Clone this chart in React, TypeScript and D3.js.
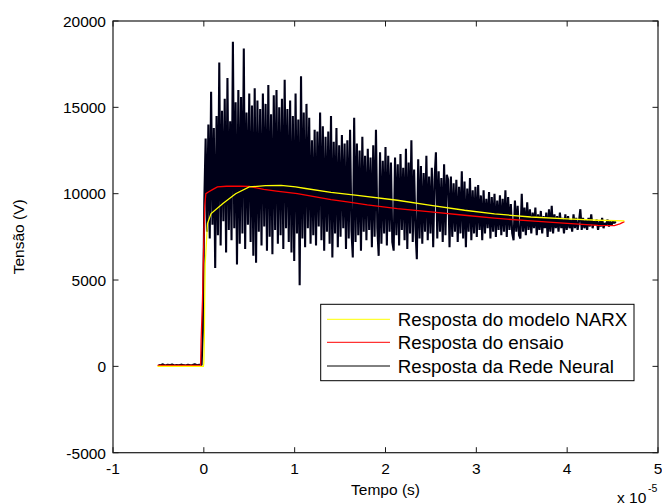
import React from 'react';
import * as d3 from 'd3';

// x axis in units of 1e-5 s
const xTicks = [-1, 0, 1, 2, 3, 4, 5];
const yTicks = [-5000, 0, 5000, 10000, 15000, 20000];
const xLabel = 'Tempo (s)';
const yLabel = 'Tensão (V)';
const legendLabels = ['Resposta do modelo NARX', 'Resposta do ensaio', 'Resposta da Rede Neural'];

// Resposta do modelo NARX (yellow)
const narxT = [-0.51, -0.005, 0.0, 0.005, 0.01, 0.015, 0.04, 0.08, 0.21, 0.35, 0.5, 0.68, 0.85, 1.01, 1.12, 1.4, 1.69, 2.13, 2.5, 2.87, 3.2, 3.6, 4.0, 4.34, 4.63];
const narxV = [0, 0, 200, 1500, 4000, 5950, 8270, 8850, 9430, 10000, 10390, 10470, 10480, 10390, 10300, 10080, 9900, 9620, 9320, 9040, 8830, 8650, 8540, 8460, 8420];

// Resposta do ensaio (red)
const ensaioT = [-0.51, -0.035, -0.03, -0.015, -0.003, 0.01, 0.022, 0.05, 0.1, 0.15, 0.25, 0.4, 0.5, 0.66, 0.8, 1.03, 1.2, 1.4, 1.58, 1.8, 2.13, 2.5, 2.87, 3.2, 3.6, 4.0, 4.34, 4.52, 4.58, 4.63];
const ensaioV = [60, 60, 1500, 3800, 6700, 9300, 10000, 10100, 10250, 10390, 10430, 10440, 10420, 10250, 10150, 10000, 9850, 9650, 9520, 9350, 9140, 8950, 8750, 8580, 8420, 8280, 8170, 8150, 8250, 8380];

// Resposta da Rede Neural (black): pre-trigger samples (V)
const neuralPreStart = -0.5;
const neuralPreStep = 0.025;
const neuralPre = [80, 60, 120, 40, 90, 70, 110, 50, 80, 60, 100, 70, 50, 90, 60, 80, 120, 60, 90, 70];

// Resposta da Rede Neural (black): main samples, in hundreds of volts
const neuralStart = -0.01;
const neuralStep = 0.015;
const neuralHundredsV = [
  20, 95, 132, 78, 140, 74, 159, 82, 138, 57, 145, 76, 176, 70, 148, 84, 155, 66, 167, 79,
  142, 73, 188, 80, 153, 59, 160, 71, 156, 77, 184, 68, 147, 82, 158, 72, 151, 64, 161, 60,
  154, 78, 149, 70, 158, 81, 152, 67, 163, 75, 146, 65, 157, 79, 160, 71, 150, 76, 155, 68,
  166, 80, 149, 72, 154, 66, 145, 61, 158, 77, 143, 47, 168, 74, 147, 69, 152, 80, 144, 71,
  131, 76, 137, 70, 136, 81, 147, 73, 139, 67, 133, 78, 136, 71, 145, 63, 130, 77, 138, 69,
  128, 75, 134, 80, 129, 68, 131, 74, 137, 79, 63, 144, 72, 129, 76, 125, 67, 133, 78, 122,
  73, 126, 79, 121, 69, 128, 75, 137, 80, 64, 124, 71, 119, 77, 127, 70, 122, 78, 118, 72,
  67, 121, 76, 117, 70, 123, 79, 115, 73, 126, 68, 118, 77, 131, 72, 114, 79, 62, 120, 74,
  116, 71, 112, 78, 122, 73, 110, 77, 115, 69, 108, 124, 74, 113, 78, 109, 72, 117, 76, 111,
  108, 69, 110, 75, 106, 78, 108, 72, 104, 77, 113, 74, 107, 69, 103, 78, 109, 73, 102, 77,
  104, 75, 105, 79, 99, 73, 102, 77, 97, 80, 101, 74, 98, 78, 100, 75, 96, 79, 99, 76,
  97, 78, 102, 75, 98, 79, 94, 77, 73, 96, 78, 93, 76, 74, 100, 78, 92, 76, 95, 79,
  91, 77, 89, 80, 92, 76, 88, 79, 90, 77, 87, 80, 89, 75, 91, 78, 93, 77, 88, 80,
  87, 78, 89, 80, 86, 77, 88, 79, 87, 80, 85, 78, 88, 80, 86, 79, 84, 91, 79, 86,
  80, 85, 79, 86, 81, 88, 80, 84, 82, 85, 79, 84, 81, 86, 80, 83, 82, 85, 81, 84,
  82, 84, 83, 84,
];

const W = 662;
const H = 504;
const PL = 113, PR = 658, PT = 21, PB = 452.7;
const FONT = '"Liberation Sans", Arial, Helvetica, sans-serif';

export default function App() {
  const x = d3.scaleLinear().domain([-1, 5]).range([PL, PR]);
  const y = d3.scaleLinear().domain([-5000, 20000]).range([PB, PT]);
  const line = d3.line<[number, number]>().x((d) => x(d[0])).y((d) => y(d[1]));

  const prePts: [number, number][] = neuralPre.map((v, i) => [neuralPreStart + i * neuralPreStep, v] as [number, number]);
  const mainPts: [number, number][] = neuralHundredsV.map((v, i) => [neuralStart + i * neuralStep, v * 100] as [number, number]);
  const neuralPts: [number, number][] = [...prePts, ...mainPts];
  const narxPts = narxT.map((t, i) => [t, narxV[i]] as [number, number]);
  const ensaioPts = ensaioT.map((t, i) => [t, ensaioV[i]] as [number, number]);

  const tickLen = 5.5;
  const legendColors = ['#ffff00', '#ff0000', '#000000'];
  const lgX = 320.7, lgY = 304.3, lgW = 313.3, lgH = 76.4;
  const rowBase = [326.3, 349.3, 372.7];
  const rowLine = [319.3, 342.3, 366];

  return (
    <svg width={W} height={H} style={{ position: 'absolute', left: 0, top: 0, background: '#fff' }} fontFamily={FONT}>
      <rect x={0} y={0} width={W} height={H} fill="#fff" />
      <defs>
        <clipPath id="plotclip">
          <rect x={PL} y={PT} width={PR - PL} height={PB - PT} />
        </clipPath>
      </defs>
      <g clipPath="url(#plotclip)">
        <path d={line(neuralPts) || ''} fill="none" stroke="#000018" strokeWidth={2.1} strokeLinejoin="bevel" />
        <path d={line(ensaioPts) || ''} fill="none" stroke="#ff0000" strokeWidth={1.3} />
        <path d={line(narxPts) || ''} fill="none" stroke="#ffff00" strokeWidth={1.3} />
      </g>
      {/* axes box */}
      <rect x={PL} y={PT} width={PR - PL} height={PB - PT} fill="none" stroke="#1a1a1a" strokeWidth={1.2} />
      {xTicks.map((t) => (
        <g key={'xt' + t}>
          <line x1={x(t)} x2={x(t)} y1={PB} y2={PB - tickLen} stroke="#1a1a1a" strokeWidth={1} />
          <line x1={x(t)} x2={x(t)} y1={PT} y2={PT + tickLen} stroke="#1a1a1a" strokeWidth={1} />
          <text x={x(t)} y={474} fontSize={15.5} textAnchor="middle" fill="#000">{t}</text>
        </g>
      ))}
      {yTicks.map((t) => (
        <g key={'yt' + t}>
          <line x1={PL} x2={PL + tickLen} y1={y(t)} y2={y(t)} stroke="#1a1a1a" strokeWidth={1} />
          <line x1={PR} x2={PR - tickLen} y1={y(t)} y2={y(t)} stroke="#1a1a1a" strokeWidth={1} />
          <text x={106} y={y(t) + 5.8} fontSize={15.5} textAnchor="end" fill="#000">{t}</text>
        </g>
      ))}
      <text x={(PL + PR) / 2} y={495} fontSize={15.5} textAnchor="middle" fill="#000">{xLabel}</text>
      <text transform={`translate(24,${(PT + PB) / 2}) rotate(-90)`} fontSize={15.5} textAnchor="middle" fill="#000">{yLabel}</text>
      <text x={617} y={502.5} fontSize={15.5} fill="#000">x 10</text>
      <text x={648} y={492} fontSize={10.5} fill="#000">-5</text>
      {/* legend */}
      <rect x={lgX} y={lgY} width={lgW} height={lgH} fill="#fff" stroke="#000" strokeWidth={1} />
      {legendLabels.map((lab, i) => (
        <g key={lab}>
          <line x1={327} x2={390} y1={rowLine[i]} y2={rowLine[i]} stroke={legendColors[i]} strokeWidth={1} />
          <text x={397.7} y={rowBase[i]} fontSize={18.8} fill="#000">{lab}</text>
        </g>
      ))}
    </svg>
  );
}
